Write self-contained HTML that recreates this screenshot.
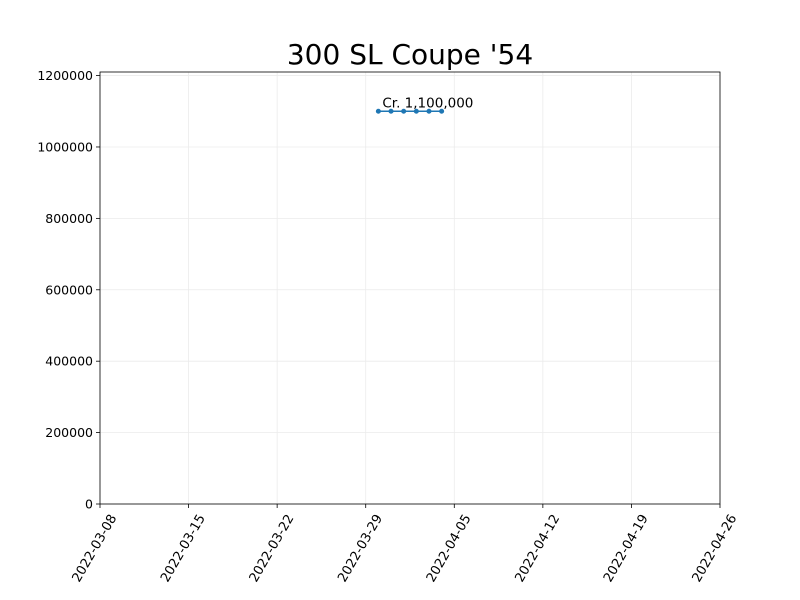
<!DOCTYPE html>
<html><head><meta charset="utf-8"><style>
body{margin:0;background:#fff;}
svg{display:block;font-family:"DejaVu Sans","Liberation Sans",sans-serif;}
</style></head><body>
<svg id="chart" width="800" height="600" xmlns="http://www.w3.org/2000/svg">
<text x="410" y="64" font-size="28" text-anchor="middle">300 SL Coupe '54</text>
<g id="grid"></g>
<g id="axes"></g>
<g id="series"></g>
</svg>
<script>
const dates = ["2022-03-30","2022-03-31","2022-04-01","2022-04-02","2022-04-03","2022-04-04"];
const prices = [1100000,1100000,1100000,1100000,1100000,1100000];
const xTicks = ["2022-03-08","2022-03-15","2022-03-22","2022-03-29","2022-04-05","2022-04-12","2022-04-19","2022-04-26"];
const yTicks = [0,200000,400000,600000,800000,1000000,1200000];
const annotationText = "Cr. 1,100,000";

const L=100,R=720,T=72,B=504;
const x0=Date.parse("2022-03-08"), x1=Date.parse("2022-04-26");
const yMax=1210000;
const xs=d=>L+(Date.parse(d)-x0)/(x1-x0)*(R-L);
const ys=v=>B-v/yMax*(B-T);
const NS="http://www.w3.org/2000/svg";
function mk(tag,attrs,parent,txt){const e=document.createElementNS(NS,tag);for(const k in attrs)e.setAttribute(k,attrs[k]);if(txt!==undefined)e.textContent=txt;parent.appendChild(e);return e;}
const grid=document.getElementById('grid'),axes=document.getElementById('axes'),series=document.getElementById('series');
xTicks.forEach(t=>{const x=xs(t);
 const g=mk('line',{x1:x,x2:x,y1:T,y2:B,stroke:'#ebebeb','stroke-width':0.8},grid);
 
 
 const tk=mk('line',{x1:x,x2:x,y1:B,y2:B+4,stroke:'#000','stroke-width':0.8},axes);
 
 
 const ax=x+9, ay=B+9;
 const lb=mk('text',{x:ax,y:ay,'font-size':13,'text-anchor':'end',transform:`rotate(-60 ${ax} ${ay})`,dy:'0.7em'},axes,t);
 
 
});
yTicks.forEach(v=>{const y=ys(v);
 const g=mk('line',{x1:L,x2:R,y1:y,y2:y,stroke:'#ebebeb','stroke-width':0.8},grid);
 
 
 const tk=mk('line',{x1:L-4,x2:L,y1:y,y2:y,stroke:'#000','stroke-width':0.8},axes);
 
 
 const lb=mk('text',{x:L-7,y:y+4.5,'font-size':12.5,'text-anchor':'end'},axes,String(v));
 
 
});
const frame=mk('rect',{x:L,y:T,width:R-L,height:B-T,fill:'none',stroke:'#000','stroke-width':0.8},axes);


const pts=dates.map((d,i)=>xs(d)+','+ys(prices[i])).join(' ');
const line=mk('polyline',{points:pts,fill:'none',stroke:'#1f77b4','stroke-width':1.5},series);


dates.forEach((d,i)=>{
 const c=mk('circle',{cx:xs(d),cy:ys(prices[i]),r:2.5,fill:'#1f77b4'},series);
 
 
});
const an=mk('text',{x:xs(dates[0])+4,y:ys(prices[0])-4,'font-size':13.5},series,annotationText);


</script>
</body></html>
